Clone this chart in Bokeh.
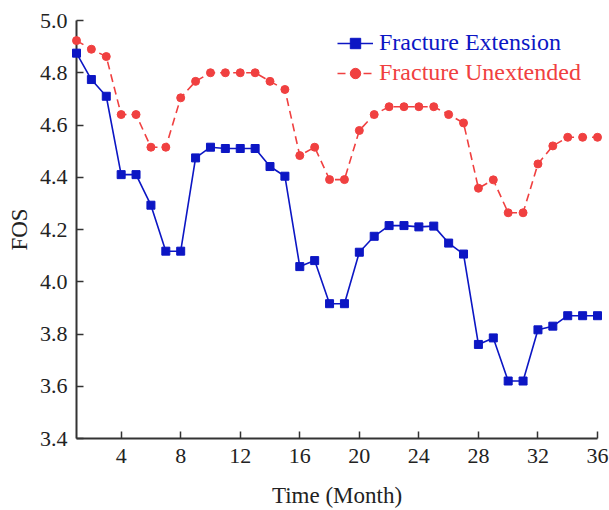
from bokeh.plotting import figure
from bokeh.models import Range1d, Legend, LegendItem, FixedTicker, ColumnDataSource
from bokeh.embed import file_html
from bokeh.resources import INLINE

months = list(range(1, 37))
extension = [4.875, 4.774, 4.71, 4.41, 4.41, 4.293, 4.117, 4.117, 4.474, 4.515,
             4.51, 4.51, 4.51, 4.441, 4.404, 4.058, 4.081, 3.916, 3.916, 4.113,
             4.174, 4.215, 4.215, 4.21, 4.213, 4.148, 4.106, 3.76, 3.785, 3.62,
             3.62, 3.816, 3.83, 3.87, 3.87, 3.87]
unextended = [4.923, 4.89, 4.862, 4.64, 4.64, 4.515, 4.515, 4.704, 4.767, 4.80,
              4.80, 4.80, 4.80, 4.767, 4.736, 4.483, 4.515, 4.391, 4.391, 4.579,
              4.64, 4.67, 4.67, 4.67, 4.67, 4.64, 4.608, 4.358, 4.39, 4.264,
              4.264, 4.451, 4.52, 4.553, 4.553, 4.553]
x_ticks = [4, 8, 12, 16, 20, 24, 28, 32, 36]
y_ticks = [3.4, 3.6, 3.8, 4.0, 4.2, 4.4, 4.6, 4.8, 5.0]

BLUE = "#0c16c4"
RED = "#f04040"
FONT = "Liberation Serif"
TXT = "#222222"

src = ColumnDataSource(dict(x=months, ext=extension, unx=unextended))

p = figure(width=609, height=510, output_backend="svg", toolbar_location=None,
           x_range=Range1d(1, 36), y_range=Range1d(3.4, 5.0),
           min_border_left=76, min_border_right=12, min_border_top=20,
           min_border_bottom=10)
p.outline_line_color = None
p.grid.visible = False

for ax in (p.xaxis[0], p.yaxis[0]):
    ax.axis_line_width = 2
    ax.axis_line_color = "#333333"
    ax.major_tick_line_color = "#333333"
    ax.major_tick_line_width = 1.5
    ax.major_tick_in = 7
    ax.major_tick_out = 0
    ax.minor_tick_line_color = None
    ax.major_label_text_font = FONT
    ax.major_label_text_font_size = "22px"
    ax.major_label_text_color = TXT
    ax.axis_label_text_font = FONT
    ax.axis_label_text_font_size = "23px"
    ax.axis_label_text_font_style = "normal"
    ax.axis_label_text_color = TXT

p.xaxis.ticker = FixedTicker(ticks=x_ticks)
p.yaxis.ticker = FixedTicker(ticks=y_ticks)
p.yaxis.major_label_overrides = {v: f"{v:.1f}" for v in y_ticks}
p.yaxis.axis_label = "FOS"
p.xaxis.axis_label = "Time (Month)"
p.xaxis.major_label_standoff = 10
p.yaxis.major_label_standoff = 9
p.yaxis.axis_label_standoff = 5
p.xaxis.axis_label_standoff = 17

l1 = p.line("x", "ext", source=src, line_color=BLUE, line_width=1.6)
m1 = p.scatter("x", "ext", source=src, marker="square", size=8,
               fill_color=BLUE, line_color=BLUE)
l2 = p.line("x", "unx", source=src, line_color=RED, line_width=1.6,
            line_dash="8 5")
m2 = p.scatter("x", "unx", source=src, marker="circle", size=8,
               fill_color=RED, line_color=RED)

for r in (l1, m1, l2, m2):
    r.level = "overlay"

common = dict(label_text_font=FONT, label_text_font_size="24px",
              glyph_width=36, glyph_height=26, label_height=26,
              background_fill_alpha=0, border_line_color=None,
              padding=0, margin=0, label_standoff=6)
leg1 = Legend(items=[LegendItem(label="Fracture Extension", renderers=[l1, m1])],
              location=(261, 382), label_text_color=BLUE, **common)
leg2 = Legend(items=[LegendItem(label="Fracture Unextended", renderers=[l2, m2])],
              location=(261, 352), label_text_color=RED, **common)
p.add_layout(leg1)
p.add_layout(leg2)

open("out.html", "w").write(file_html(p, INLINE))
